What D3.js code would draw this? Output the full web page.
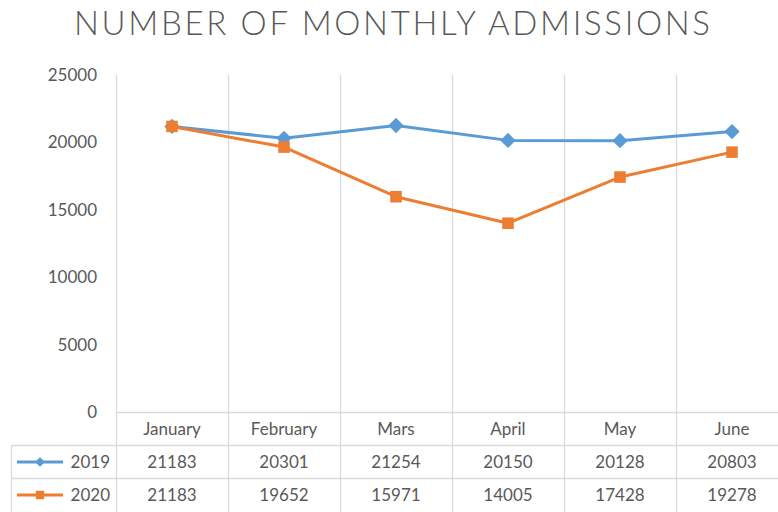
<!DOCTYPE html>
<html>
<head>
<meta charset="utf-8">
<script src="https://cdn.jsdelivr.net/npm/d3@7"></script>
<style>
  body { margin: 0; background: #fff; }
  .chart text { font-family: Lato, "Open Sans", sans-serif; fill: #595959; }
</style>
</head>
<body>
<div class="content"></div>
<script>
var size = {width: 778, height: 512};
var padding = {left: 116, right: -10, top: 75, bottom: 100};

// Data
var months = ["January", "February", "Mars", "April", "May", "June"];
var years = ["2019", "2020"];
var values2019 = [21183, 20301, 21254, 20150, 20128, 20803];
var values2020 = [21183, 19652, 15971, 14005, 17428, 19278];
var yTicks = [0, 5000, 10000, 15000, 20000, 25000];
var colors = ["#5B9BD5", "#ED7D31"];

var series = [
    {name: years[0], values: values2019, color: colors[0], marker: d3.symbolDiamond2},
    {name: years[1], values: values2020, color: colors[1], marker: d3.symbolSquare2}
];

var chart = d3.select('.content')
    .append('svg:svg')
    .attr('width', size.width)
    .attr('height', size.height)
    .attr('class', 'chart');

var xScale = d3.scaleBand()
    .domain(months)
    .range([padding.left, size.width - padding.right])
    .padding(0);
var yScale = d3.scaleLinear()
    .domain([0, 25000])
    .range([size.height - padding.bottom, padding.top]);

var rowH = 33;
var tableTop = yScale(0) + 0.5;
var gridColor = "#d9d9d9";

// Title
chart.append('text')
    .attr('x', 74)
    .attr('y', 35)
    .attr('textLength', 636)
    .attr('lengthAdjust', 'spacing')
    .style('font-size', '33px')
    .style('font-weight', 300)
    .text('NUMBER OF MONTHLY ADMISSIONS');

// Vertical category separators, running down through the table
var edges = months.map(function(m) { return xScale(m); }).concat([xScale.range()[1]]);
chart.selectAll('line.vgrid').data(edges)
    .enter().append('line')
    .attr('class', 'vgrid')
    .attr('x1', function(d) { return Math.round(d) + 0.5; })
    .attr('x2', function(d) { return Math.round(d) + 0.5; })
    .attr('y1', yScale(25000))
    .attr('y2', size.height)
    .attr('stroke', gridColor)
    .attr('stroke-width', 1.3);

// Table horizontal lines
chart.append('line')
    .attr('x1', padding.left).attr('x2', size.width)
    .attr('y1', tableTop).attr('y2', tableTop)
    .attr('stroke', gridColor).attr('stroke-width', 1.3);
[1, 2].forEach(function(r) {
    chart.append('line')
        .attr('x1', 11).attr('x2', size.width)
        .attr('y1', tableTop + rowH * r).attr('y2', tableTop + rowH * r)
        .attr('stroke', gridColor).attr('stroke-width', 1.3);
});
chart.append('line')
    .attr('x1', 11.5).attr('x2', 11.5)
    .attr('y1', tableTop + rowH).attr('y2', size.height)
    .attr('stroke', gridColor).attr('stroke-width', 1.3);

// Y axis labels (no axis line)
chart.selectAll('text.ytick').data(yTicks)
    .enter().append('text')
    .attr('class', 'ytick')
    .attr('x', 97)
    .attr('y', function(d) { return yScale(d); })
    .attr('dy', '0.35em')
    .attr('text-anchor', 'end')
    .style('font-size', '17px')
    .text(function(d) { return d; });

// Month header row
chart.selectAll('text.month').data(months)
    .enter().append('text')
    .attr('class', 'month')
    .attr('x', function(d) { return xScale(d) + xScale.bandwidth() / 2; })
    .attr('y', tableTop + rowH / 2)
    .attr('dy', '0.35em')
    .attr('text-anchor', 'middle')
    .style('font-size', '17px')
    .text(function(d) { return d; });

// Lines and markers
var line = d3.line()
    .x(function(d, i) { return xScale(months[i]) + xScale.bandwidth() / 2; })
    .y(function(d) { return yScale(d); });

series.forEach(function(s, si) {
    chart.append('path')
        .datum(s.values)
        .attr('fill', 'none')
        .attr('stroke', s.color)
        .attr('stroke-width', 3)
        .attr('stroke-linejoin', 'round')
        .attr('d', line);
    chart.selectAll('path.mk' + si).data(s.values)
        .enter().append('path')
        .attr('class', 'mk' + si)
        .attr('transform', function(d, i) {
            return 'translate(' + (xScale(months[i]) + xScale.bandwidth() / 2) + ',' + yScale(d) + ')';
        })
        .attr('d', d3.symbol().type(s.marker).size(si === 0 ? 150 : 170))
        .attr('fill', s.color);

    // Table row
    var rowY = tableTop + rowH * (si + 1) + rowH / 2;
    chart.append('line')
        .attr('x1', 17).attr('x2', 63)
        .attr('y1', rowY).attr('y2', rowY)
        .attr('stroke', s.color).attr('stroke-width', 3);
    chart.append('path')
        .attr('transform', 'translate(40,' + rowY + ')')
        .attr('d', d3.symbol().type(s.marker).size(si === 0 ? 60 : 90))
        .attr('fill', s.color);
    chart.append('text')
        .attr('x', 110)
        .attr('y', rowY)
        .attr('dy', '0.35em')
        .attr('text-anchor', 'end')
        .style('font-size', '17px')
        .text(s.name);
    chart.selectAll('text.val' + si).data(s.values)
        .enter().append('text')
        .attr('class', 'val' + si)
        .attr('x', function(d, i) { return xScale(months[i]) + xScale.bandwidth() / 2; })
        .attr('y', rowY)
        .attr('dy', '0.35em')
        .attr('text-anchor', 'middle')
        .style('font-size', '17px')
        .text(function(d) { return d; });
});
</script>
</body>
</html>
